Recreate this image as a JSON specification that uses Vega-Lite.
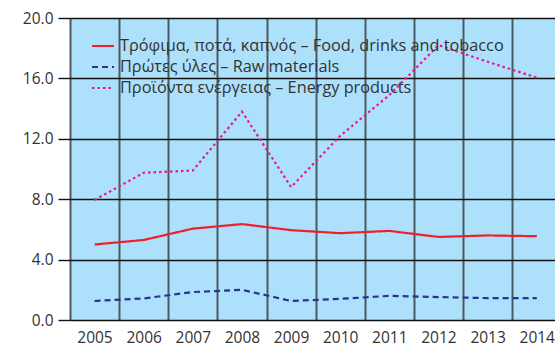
{
  "$schema": "https://vega.github.io/schema/vega-lite/v6.json",
  "width": 485,
  "height": 302,
  "autosize": {"type": "none"},
  "padding": {"left": 70, "top": 18, "right": 0, "bottom": 32},
  "background": "white",
  "view": {"fill": "#ade0fa", "stroke": null},
  "config": {
    "font": "Open Sans",
    "axis": {"labelFont": "Open Sans", "labelFontSize": 15.5, "labelColor": "#333333"},
    "legend": {"labelFont": "Open Sans", "labelFontSize": 16.3, "labelColor": "#333333"}
  },
  "data": {
    "values": [
      {"year": 2005, "series": "Τρόφιμα, ποτά, καπνός – Food, drinks and tobacco", "value": 5.0},
      {"year": 2006, "series": "Τρόφιμα, ποτά, καπνός – Food, drinks and tobacco", "value": 5.3},
      {"year": 2007, "series": "Τρόφιμα, ποτά, καπνός – Food, drinks and tobacco", "value": 6.05},
      {"year": 2008, "series": "Τρόφιμα, ποτά, καπνός – Food, drinks and tobacco", "value": 6.35},
      {"year": 2009, "series": "Τρόφιμα, ποτά, καπνός – Food, drinks and tobacco", "value": 5.95},
      {"year": 2010, "series": "Τρόφιμα, ποτά, καπνός – Food, drinks and tobacco", "value": 5.75},
      {"year": 2011, "series": "Τρόφιμα, ποτά, καπνός – Food, drinks and tobacco", "value": 5.9},
      {"year": 2012, "series": "Τρόφιμα, ποτά, καπνός – Food, drinks and tobacco", "value": 5.5},
      {"year": 2013, "series": "Τρόφιμα, ποτά, καπνός – Food, drinks and tobacco", "value": 5.6},
      {"year": 2014, "series": "Τρόφιμα, ποτά, καπνός – Food, drinks and tobacco", "value": 5.55},
      {"year": 2005, "series": "Πρώτες ύλες – Raw materials", "value": 1.26},
      {"year": 2006, "series": "Πρώτες ύλες – Raw materials", "value": 1.43},
      {"year": 2007, "series": "Πρώτες ύλες – Raw materials", "value": 1.85},
      {"year": 2008, "series": "Πρώτες ύλες – Raw materials", "value": 2.0},
      {"year": 2009, "series": "Πρώτες ύλες – Raw materials", "value": 1.26},
      {"year": 2010, "series": "Πρώτες ύλες – Raw materials", "value": 1.4},
      {"year": 2011, "series": "Πρώτες ύλες – Raw materials", "value": 1.6},
      {"year": 2012, "series": "Πρώτες ύλες – Raw materials", "value": 1.52},
      {"year": 2013, "series": "Πρώτες ύλες – Raw materials", "value": 1.45},
      {"year": 2014, "series": "Πρώτες ύλες – Raw materials", "value": 1.45},
      {"year": 2005, "series": "Προϊόντα ενέργειας – Energy products", "value": 7.95},
      {"year": 2006, "series": "Προϊόντα ενέργειας – Energy products", "value": 9.75},
      {"year": 2007, "series": "Προϊόντα ενέργειας – Energy products", "value": 9.9},
      {"year": 2008, "series": "Προϊόντα ενέργειας – Energy products", "value": 13.8},
      {"year": 2009, "series": "Προϊόντα ενέργειας – Energy products", "value": 8.8},
      {"year": 2010, "series": "Προϊόντα ενέργειας – Energy products", "value": 12.2},
      {"year": 2011, "series": "Προϊόντα ενέργειας – Energy products", "value": 14.9},
      {"year": 2012, "series": "Προϊόντα ενέργειας – Energy products", "value": 18.2},
      {"year": 2013, "series": "Προϊόντα ενέργειας – Energy products", "value": 17.1},
      {"year": 2014, "series": "Προϊόντα ενέργειας – Energy products", "value": 16.05}
    ]
  },
  "mark": {"type": "line", "strokeWidth": 2.2, "clip": true},
  "encoding": {
    "x": {
      "field": "year",
      "type": "quantitative",
      "scale": {"domain": [2004.5, 2014.37], "nice": false, "zero": false},
      "axis": {
        "title": null,
        "values": [2004.5, 2005.5, 2006.5, 2007.5, 2008.5, 2009.5, 2010.5, 2011.5, 2012.5, 2013.5],
        "labelExpr": "format(datum.value + 0.5, 'd')",
        "labelOffset": 24.5,
        "labelPadding": 10,
        "labelOverlap": false,
        "labelBound": false,
        "labelFlush": false,
        "ticks": false,
        "domain": false,
        "grid": true,
        "gridColor": "#4b5a62",
        "gridWidth": 2,
        "gridOpacity": 1
      }
    },
    "y": {
      "field": "value",
      "type": "quantitative",
      "scale": {"domain": [0, 20], "nice": false},
      "axis": {
        "title": null,
        "values": [0, 4, 8, 12, 16, 20],
        "format": ".1f",
        "domain": false,
        "grid": true,
        "gridColor": "#111111",
        "gridWidth": 1.4,
        "gridOpacity": 1,
        "ticks": true,
        "tickColor": "#111111",
        "tickWidth": 1.4,
        "tickSize": 12,
        "labelPadding": 5
      }
    },
    "color": {
      "field": "series",
      "type": "nominal",
      "scale": {
        "domain": ["Τρόφιμα, ποτά, καπνός – Food, drinks and tobacco", "Πρώτες ύλες – Raw materials", "Προϊόντα ενέργειας – Energy products"],
        "range": ["#f0202a", "#2e3192", "#e6198f"]
      },
      "legend": {
        "title": null,
        "orient": "none",
        "legendX": 21,
        "legendY": 16,
        "symbolType": "stroke",
        "symbolSize": 484,
        "symbolStrokeWidth": 2,
        "labelOffset": 5,
        "labelLimit": 0,
        "rowPadding": 0,
        "padding": 0
      }
    },
    "strokeDash": {
      "field": "series",
      "type": "nominal",
      "scale": {
        "domain": ["Τρόφιμα, ποτά, καπνός – Food, drinks and tobacco", "Πρώτες ύλες – Raw materials", "Προϊόντα ενέργειας – Energy products"],
        "range": [[1, 0], [6, 4], [2.5, 3]]
      },
      "legend": null
    }
  }
}
